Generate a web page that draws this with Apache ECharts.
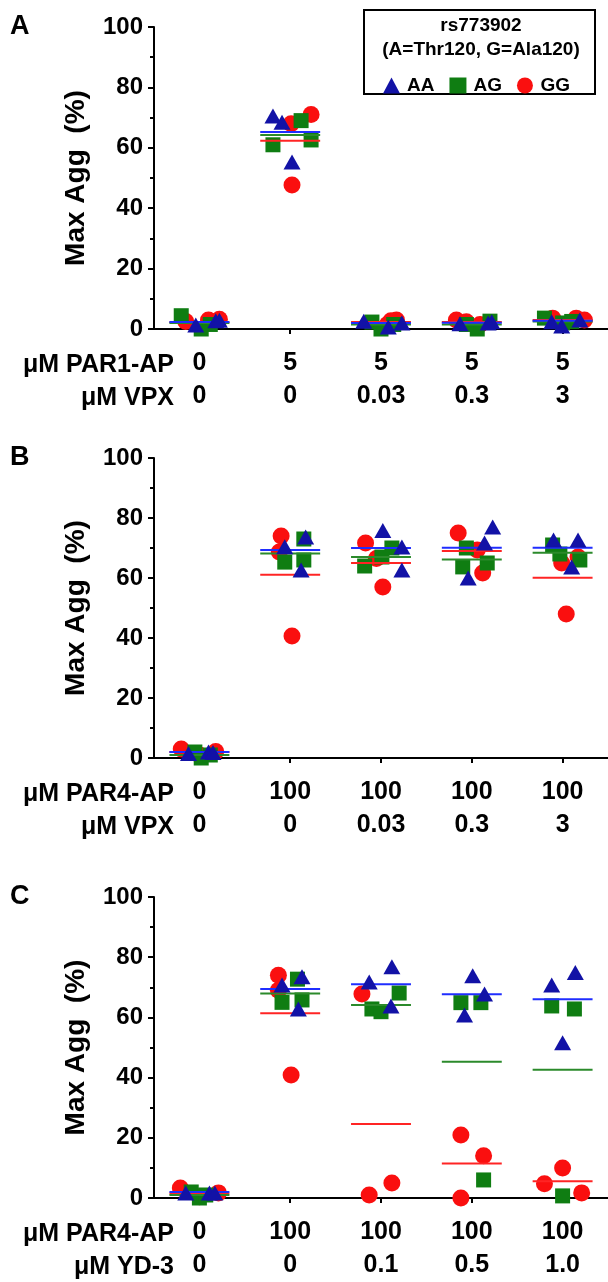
<!DOCTYPE html>
<html>
<head>
<meta charset="utf-8">
<script src="https://cdn.jsdelivr.net/npm/echarts@6/dist/echarts.min.js"></script>
<style>
  html, body { margin: 0; padding: 0; background: #fff; }
  #chart { width: 608px; height: 1282px; }
</style>
</head>
<body>
<div id="chart"></div>
<script>
// category positions on the x axis
var cats = [1, 2, 3, 4, 5];

// tick labels, two rows per panel
var rowA1 = ['0', '5', '5', '5', '5'];
var rowA2 = ['0', '0', '0.03', '0.3', '3'];
var rowB1 = ['0', '100', '100', '100', '100'];
var rowB2 = ['0', '0', '0.03', '0.3', '3'];
var rowC1 = ['0', '100', '100', '100', '100'];
var rowC2 = ['0', '0', '0.1', '0.5', '1.0'];
var headA = ['μM PAR1-AP', 'μM VPX'];
var headB = ['μM PAR4-AP', 'μM VPX'];
var headC = ['μM PAR4-AP', 'μM YD-3'];

// values per category (3 donors each) and horizontal jitter
var aAA = [[1.3, 2.7, 2.9], [70.5, 68.5, 55.3], [2.6, 0.7, 2], [1.7, 2.4, 2], [2.4, 1, 3]];
var aAAj = [[-0.04, 0.18, 0.22], [-0.19, -0.09, 0.02], [-0.19, 0.08, 0.23], [-0.13, 0.22, 0.18], [-0.12, -0.01, 0.19]];
var aAG = [[4.4, 0, 1.5], [69, 61, 62.6], [2.3, 0, 1.5], [0, 2.6, 1.5], [3.6, 2, 2.5]];
var aAGj = [[-0.2, 0.02, 0.12], [0.12, -0.19, 0.23], [-0.1, 0, 0.14], [0.06, 0.2, -0.06], [-0.2, 0, 0.1]];
var aGG = [[2.5, 3, 3.2], [68, 71, 47.7], [3, 2.7, 1.5], [3, 2.4, 1.5], [3.6, 3.6, 3]];
var aGGj = [[-0.15, 0.1, 0.22], [0.01, 0.23, 0.02], [0.17, 0.11, 0.07], [-0.17, -0.06, 0.09], [-0.11, 0.15, 0.24]];
var aMeanAA = [2.3, 65.2, 2.0, 2.1, 2.7];
var aMeanAG = [2.0, 64.2, 1.5, 1.5, 2.5];
var aMeanGG = [2.2, 62.3, 2.3, 2.3, 3.0];

var bAA = [[1.5, 2, 1.8], [70.4, 73.7, 62.7], [75.8, 70.3, 62.7], [77, 71.7, 60], [72.7, 72.7, 63.7]];
var bAAj = [[-0.12, 0.1, 0.15], [-0.06, 0.17, 0.12], [0.02, 0.23, 0.23], [0.23, 0.14, -0.04], [-0.1, 0.17, 0.1]];
var bAG = [[2, 0, 1], [73, 65.3, 66], [70, 67, 64], [70, 63.7, 65], [71, 66, 68]];
var bAGj = [[-0.05, 0.02, 0.12], [0.15, -0.06, 0.15], [0.12, 0.01, -0.18], [-0.06, -0.1, 0.17], [-0.11, 0.19, -0.03]];
var bGG = [[3, 2.2, 1], [74, 68.7, 40.7], [71.7, 57, 66.5], [75, 69.3, 61.7], [65, 67, 48]];
var bGGj = [[-0.2, 0.18, 0], [-0.1, -0.12, 0.02], [-0.17, 0.02, -0.05], [-0.15, 0.06, 0.12], [-0.01, 0.17, 0.04]];
var bMeanAA = [2.0, 69.3, 70, 70.1, 70.1];
var bMeanAG = [1.0, 68.2, 67, 66.2, 68.4];
var bMeanGG = [2.0, 61.1, 65, 69, 60.1];

var cAA = [[1.7, 1.7, 1.7], [70.8, 73.5, 62.8], [76.8, 71.8, 63.8], [73.8, 67.8, 60.8], [70.8, 74.9, 51.6]];
var cAAj = [[-0.15, 0.11, 0.17], [-0.09, 0.13, 0.09], [0.12, -0.13, 0.11], [0.01, 0.14, -0.08], [-0.12, 0.14, 0]];
var cAG = [[2, 0, 1], [72.7, 65, 65.8], [68.1, 62.8, 61.9], [64.9, 64.9, 6], [63.8, 62.8, 0.7]];
var cAGj = [[-0.09, 0, 0.07], [0.08, -0.09, 0.13], [0.2, -0.1, 0], [-0.12, 0.1, 0.13], [-0.12, 0.13, 0]];
var cGG = [[3.3, 1.7, 0.4], [74, 69, 40.9], [67.8, 1, 5], [20.9, 14, 0], [4.7, 10, 1.7]];
var cGGj = [[-0.21, 0.21, 0], [-0.13, -0.13, 0.01], [-0.21, -0.13, 0.12], [-0.12, 0.13, -0.12], [-0.2, 0, 0.21]];
var cMeanAA = [2.0, 69.4, 71, 67.7, 66];
var cMeanAG = [1.0, 67.9, 64.1, 45.3, 42.6];
var cMeanGG = [1.5, 61.4, 24.6, 11.5, 5.6];

var FONT = '"Liberation Sans", Arial, sans-serif';
var colAA = '#1212a6', colAG = '#0f7d12', colGG = '#fa0f0f';
var lineAA = '#1f2dff', lineAG = '#2b8a2b', lineGG = '#ff2424';

var chart = echarts.init(document.getElementById('chart'));

function pts(vals, jit) {
    var out = [];
    for (var i = 0; i < cats.length; i++) {
        for (var k = 0; k < vals[i].length; k++) {
            out.push([cats[i] + jit[i][k], vals[i][k]]);
        }
    }
    return out;
}

function meanSeries(idx, means, color) {
    return {
        type: 'custom', name: 'mean', xAxisIndex: idx, yAxisIndex: idx, z: 3, silent: true,
        data: cats.map(function (c, i) { return [c, means[i]]; }),
        renderItem: function (params, api) {
            var x = api.value(0), y = api.value(1);
            var p1 = api.coord([x - 0.33, y]), p2 = api.coord([x + 0.33, y]);
            return { type: 'line', shape: { x1: p1[0], y1: p1[1], x2: p2[0], y2: p2[1] },
                     style: { stroke: color, lineWidth: 2 } };
        }
    };
}

function scat(idx, name, vals, jit, sym, size, color, z) {
    return { type: 'scatter', name: name, xAxisIndex: idx, yAxisIndex: idx, z: z,
             symbol: sym, symbolSize: size, itemStyle: { color: color, opacity: 1 },
             data: pts(vals, jit) };
}

var grids = [
    { left: 154, right: 0, top: 27, height: 302 },
    { left: 154, right: 0, top: 458, height: 300 },
    { left: 154, right: 0, top: 897, height: 301 }
];
var rows = [[rowA1, rowA2], [rowB1, rowB2], [rowC1, rowC2]];

var xAxes = rows.map(function (r, i) {
    return {
        type: 'value', gridIndex: i, min: 0.5, max: 5.5,
        axisLine: { lineStyle: { color: '#000', width: 2 } },
        axisTick: { show: true, customValues: cats, length: 5, lineStyle: { color: '#000', width: 2 } },
        splitLine: { show: false },
        axisLabel: {
            customValues: cats, margin: 18,
            formatter: function (v) {
                var j = Math.round(v) - 1;
                return '{a|' + r[0][j] + '}\n{b|' + r[1][j] + '}';
            },
            rich: {
                a: { fontFamily: FONT, fontWeight: 'bold', fontSize: 25, color: '#000', lineHeight: 33 },
                b: { fontFamily: FONT, fontWeight: 'bold', fontSize: 25, color: '#000', lineHeight: 33 }
            }
        }
    };
});

var yAxes = [0, 1, 2].map(function (i) {
    return {
        type: 'value', gridIndex: i, min: 0, max: 100, interval: 20,
        name: 'Max Agg  (%)', nameLocation: 'middle', nameGap: 64,
        nameTextStyle: { fontFamily: FONT, fontWeight: 'bold', fontSize: 28, color: '#000' },
        axisLine: { show: true, lineStyle: { color: '#000', width: 2 } },
        axisTick: { show: true, length: 6, lineStyle: { color: '#000', width: 2 } },
        minorTick: { show: true, splitNumber: 2, length: 4, lineStyle: { color: '#000', width: 2 } },
        splitLine: { show: false },
        axisLabel: { margin: 11, fontFamily: FONT, fontWeight: 'bold', fontSize: 24, color: '#000' }
    };
});

var series = [];
var sets = [
    [aAA, aAAj, aAG, aAGj, aGG, aGGj, aMeanAA, aMeanAG, aMeanGG],
    [bAA, bAAj, bAG, bAGj, bGG, bGGj, bMeanAA, bMeanAG, bMeanGG],
    [cAA, cAAj, cAG, cAGj, cGG, cGGj, cMeanAA, cMeanAG, cMeanGG]
];
sets.forEach(function (s, i) {
    series.push(scat(i, 'GG', s[4], s[5], 'circle', 17, colGG, 2));
    series.push(scat(i, 'AG', s[2], s[3], 'rect', 15, colAG, 2));
    series.push(meanSeries(i, s[8], lineGG));
    series.push(meanSeries(i, s[7], lineAG));
    series.push(meanSeries(i, s[6], lineAA));
    series.push(scat(i, 'AA', s[0], s[1], 'triangle', [17, 15], colAA, 4));
});

var heads = [headA, headB, headC];
var graphics = [];
['A', 'B', 'C'].forEach(function (L, i) {
    var axisY = grids[i].top + grids[i].height;
    graphics.push({ type: 'text', left: 10, top: grids[i].top - 14,
        style: { text: L, fontFamily: FONT, fontWeight: 'bold', fontSize: 27, fill: '#000' } });
    graphics.push({ type: 'text', x: 174, y: axisY + 36,
        style: { text: heads[i][0], fontFamily: FONT, fontWeight: 'bold', fontSize: 25, fill: '#000',
                 textAlign: 'right', textVerticalAlign: 'middle' } });
    graphics.push({ type: 'text', x: 174, y: axisY + 69,
        style: { text: heads[i][1], fontFamily: FONT, fontWeight: 'bold', fontSize: 25, fill: '#000',
                 textAlign: 'right', textVerticalAlign: 'middle' } });
});
// legend box and its title
graphics.push({ type: 'rect', shape: { x: 364, y: 10, width: 231, height: 84 },
    style: { fill: '#fff', stroke: '#000', lineWidth: 2 }, z: 5 });
graphics.push({ type: 'text', x: 481, y: 26, z: 6,
    style: { text: 'rs773902', fontFamily: FONT, fontWeight: 'bold', fontSize: 19, fill: '#000',
             textAlign: 'center', textVerticalAlign: 'middle' } });
graphics.push({ type: 'text', x: 481, y: 50, z: 6,
    style: { text: '(A=Thr120, G=Ala120)', fontFamily: FONT, fontWeight: 'bold', fontSize: 19, fill: '#000',
             textAlign: 'center', textVerticalAlign: 'middle' } });

chart.setOption({
    animation: false,
    backgroundColor: '#fff',
    grid: grids,
    xAxis: xAxes,
    yAxis: yAxes,
    legend: {
        data: [{ name: 'AA', icon: 'triangle' }, { name: 'AG', icon: 'rect' }, { name: 'GG', icon: 'circle' }],
        left: 378, top: 71, itemWidth: 17, itemHeight: 16, itemGap: 15, z: 10,
        selectedMode: false,
        textStyle: { fontFamily: FONT, fontWeight: 'bold', fontSize: 19, color: '#000', padding: [0, 0, 0, 2] }
    },
    graphic: graphics,
    series: series
});
</script>
</body>
</html>
